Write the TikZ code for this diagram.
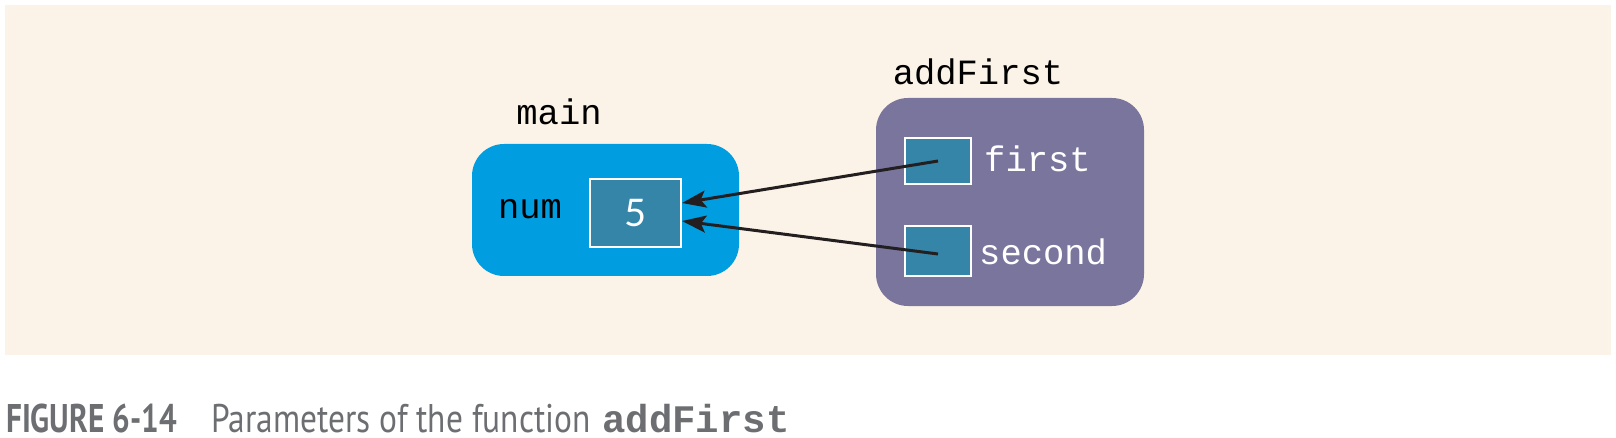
\documentclass[tikz,border=0pt]{standalone}
\usepackage{fontspec}
\setmainfont{PT Sans}
\newfontfamily\codefont{Liberation Mono}
\newfontfamily\numfont{Lato}
\usetikzlibrary{arrows.meta,calc}
\definecolor{panelbg}{RGB}{252,243,232}
\definecolor{mainblue}{RGB}{0,158,224}
\definecolor{valbox}{RGB}{53,133,169}
\definecolor{funcbox}{RGB}{122,117,157}
\definecolor{arrowcol}{RGB}{35,31,32}
\definecolor{capgray}{RGB}{109,110,113}
\tikzset{
  framebox/.style={rounded corners=32pt, inner sep=0pt},
  cellbox/.style={draw=white, line width=2pt, fill=valbox, inner sep=0pt},
  codelabel/.style={font=\codefont\fontsize{35.5}{40}\selectfont, inner sep=0pt, anchor=base},
  whitecode/.style={codelabel, text=white},
  ptr/.style={draw=arrowcol, line width=3pt, -{Stealth[length=24pt,width=17pt,inset=5pt]}},
  captxt/.style={anchor=base west, inner sep=0pt, text=capgray, text depth=0pt}
}
\begin{document}
\begin{tikzpicture}[x=1pt,y=-1pt]
\useasboundingbox (0,0) rectangle (1616,438);
\fill[panelbg] (5,5) rectangle (1611,355);
% frames
\node[framebox, fill=mainblue, minimum width=267pt, minimum height=132pt] (mainfr) at (605.5,210) {};
\node[framebox, fill=funcbox, minimum width=268pt, minimum height=208pt] (funcfr) at (1010,202) {};
% labels
\node[codelabel] (mainlbl) at (559,125) {main};
\node[codelabel] (funclbl) at (978,85) {addFirst};
\node[codelabel] (numlbl) at (530,219) {num};
% cells
\node[cellbox, minimum width=91pt, minimum height=68pt] (val) at (635.5,213) {};
\node[font=\numfont\fontsize{38}{40}\selectfont, text=white, anchor=base, inner sep=0pt] (five) at (636,227) {5};
\node[cellbox, minimum width=66pt, minimum height=46pt] (first) at (938,161) {};
\node[cellbox, minimum width=66pt, minimum height=50pt] (second) at (938,251) {};
\node[whitecode, anchor=base west] (firstlbl) at (984,172) {first};
\node[whitecode, anchor=base west] (secondlbl) at (979,265) {second};
% arrows
\draw[ptr] (first.center) -- ([yshift=10pt]val.east);
\draw[ptr] ([yshift=-3pt]second.center) -- ([yshift=-8pt]val.east);
% caption
\node[captxt, font=\bfseries\fontsize{40}{44}\selectfont] (capnum) at (6,432) {\scalebox{0.78}[1]{FIGURE 6-14}};
\node[captxt, font=\fontsize{40}{44}\selectfont] (captext) at (211,432) {\scalebox{0.835}[1]{Parameters of the function}};
\node[captxt, font=\codefont\bfseries\fontsize{39}{42}\selectfont] (capcode) at (602,432) {addFirst};
\end{tikzpicture}
\end{document}
